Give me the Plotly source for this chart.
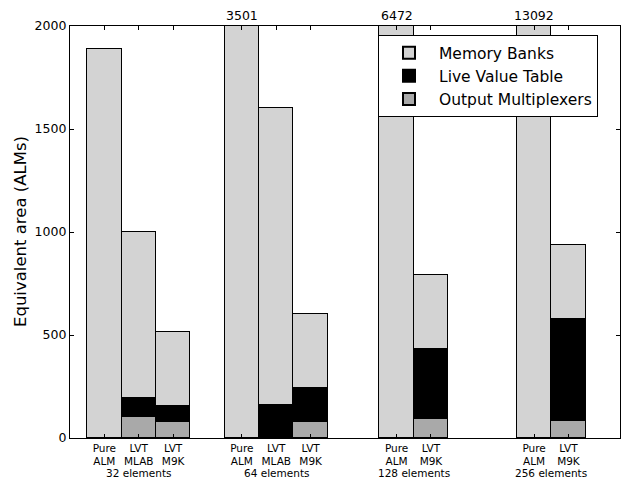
import plotly.graph_objects as go

# Data
groups = ["32 elements", "64 elements", "128 elements", "256 elements"]
bar_labels = [
    ["Pure<br>ALM", "LVT<br>MLAB", "LVT<br>M9K"],
    ["Pure<br>ALM", "LVT<br>MLAB", "LVT<br>M9K"],
    ["Pure<br>ALM", "LVT<br>M9K"],
    ["Pure<br>ALM", "LVT<br>M9K"],
]
memory_banks = [1890, 805, 362, 3501, 1442, 361, 6472, 362, 13092, 360]
live_value_table = [None, 93, 78, None, 158, 166, None, 338, None, 495]
output_mux = [None, 102, 76, None, None, 76, None, 92, None, 83]

YMAX = 2000

# Layout of bar positions (bar width = 1 unit)
group_starts = [1, 5, 9.5, 13.5]
xs, texts, centers = [], [], []
for g, start in enumerate(group_starts):
    n = len(bar_labels[g])
    pos = [start + i for i in range(n)]
    xs += pos
    texts += bar_labels[g]
    centers.append(sum(pos) / n)

font = "DejaVu Sans, Liberation Sans, sans-serif"
line = dict(color="black", width=1)

fig = go.Figure()
fig.add_trace(go.Bar(x=xs, y=output_mux, name="Output Multiplexers", width=1,
                     marker=dict(color="#a9a9a9", line=line)))
fig.add_trace(go.Bar(x=xs, y=live_value_table, name="Live Value Table", width=1,
                     marker=dict(color="black", line=line)))
fig.add_trace(go.Bar(x=xs, y=memory_banks, name="Memory Banks", width=1,
                     marker=dict(color="#d3d3d3", line=line)))

annotations = []
for g, c in enumerate(centers):
    annotations.append(dict(x=c, y=0, xref="x", yref="y", yshift=-27, text=groups[g],
                            showarrow=False, yanchor="top",
                            font=dict(size=10.5, family=font, color="black")))
for x, m in zip(xs, memory_banks):
    if m > YMAX:
        annotations.append(dict(x=x, y=1, xref="x", yref="paper", text=str(m),
                                showarrow=False, yanchor="bottom", yshift=1,
                                font=dict(size=12.5, family=font, color="black")))
# y-axis title
annotations.append(dict(x=-50 / 550, y=0.5, xref="paper", yref="paper",
                        text="Equivalent area (ALMs)", textangle=-90, showarrow=False,
                        xanchor="center", yanchor="middle",
                        font=dict(size=16.5, family=font, color="black")))

fig.update_layout(
    width=626, height=481,
    margin=dict(l=70, r=6, t=26, b=43),
    barmode="stack",
    bargap=0,
    plot_bgcolor="white",
    paper_bgcolor="white",
    font=dict(family=font, color="black"),
    showlegend=True,
    legend=dict(x=0.56, y=0.978, xanchor="left", yanchor="top",
                traceorder="reversed", bordercolor="black", borderwidth=1,
                bgcolor="white", font=dict(size=15.5, family=font),
                itemsizing="constant", itemwidth=50, tracegroupgap=0),
    annotations=annotations,
    xaxis=dict(range=[0, 16], tickvals=xs, ticktext=texts, ticks="inside",
               ticklen=4, tickcolor="black", showline=True, linecolor="black",
               linewidth=1.2, mirror="ticks", showgrid=False, zeroline=False,
               tickfont=dict(size=10.5, family=font), tickangle=0, automargin=False),
    yaxis=dict(range=[0, YMAX], tickvals=[0, 500, 1000, 1500, 2000], ticks="inside",
               ticklen=4, tickcolor="black", showline=True, linecolor="black",
               linewidth=1.2, mirror="ticks", showgrid=False, zeroline=False,
               tickfont=dict(size=12.5, family=font), automargin=False),
)

fig.write_html("out.html", config={"displayModeBar": False})

# remove default page margin so the figure sits at the window origin
with open("out.html", encoding="utf-8") as f:
    html = f.read()
html = html.replace("<head>", "<head><style>html,body{margin:0;padding:0;overflow:hidden;}</style>", 1)
with open("out.html", "w", encoding="utf-8") as f:
    f.write(html)
